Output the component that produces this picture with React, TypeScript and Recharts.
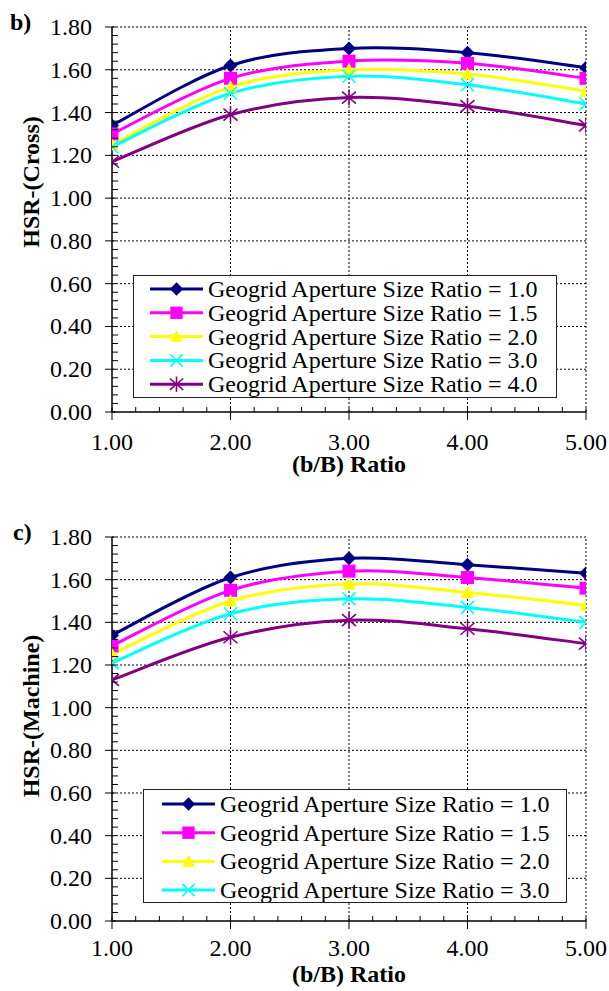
import React from 'react';
import { LineChart, Line, XAxis, YAxis, ReferenceLine, Legend } from 'recharts';

// ---------- data ----------
const bRatio = [1, 2, 3, 4, 5];

const seriesNames = [
  'Geogrid Aperture Size Ratio = 1.0',
  'Geogrid Aperture Size Ratio = 1.5',
  'Geogrid Aperture Size Ratio = 2.0',
  'Geogrid Aperture Size Ratio = 3.0',
  'Geogrid Aperture Size Ratio = 4.0',
];

// Panel b) HSR-(Cross)
const cross10 = [1.34, 1.62, 1.70, 1.68, 1.61];
const cross15 = [1.30, 1.56, 1.64, 1.63, 1.56];
const cross20 = [1.25, 1.52, 1.60, 1.58, 1.50];
const cross30 = [1.24, 1.49, 1.57, 1.53, 1.44];
const cross40 = [1.17, 1.39, 1.47, 1.43, 1.34];

// Panel c) HSR-(Machine)
const mach10 = [1.34, 1.61, 1.70, 1.67, 1.63];
const mach15 = [1.29, 1.55, 1.64, 1.61, 1.56];
const mach20 = [1.25, 1.50, 1.58, 1.54, 1.48];
const mach30 = [1.21, 1.44, 1.51, 1.47, 1.40];
const mach40 = [1.13, 1.33, 1.41, 1.37, 1.30];

const yMajorTicks = [0, 0.2, 0.4, 0.6, 0.8, 1.0, 1.2, 1.4, 1.6, 1.8];
const yTickLabels = ['0.00', '0.20', '0.40', '0.60', '0.80', '1.00', '1.20', '1.40', '1.60', '1.80'];
const xMajorTicks = [1, 2, 3, 4, 5];
const xTickLabels = ['1.00', '2.00', '3.00', '4.00', '5.00'];

const colors = ['#000080', '#FF00FF', '#FFFF00', '#00FFFF', '#800080'];
const shapes = ['diamond', 'square', 'triangle', 'cross', 'star'];

const FONT = '"Liberation Serif", "Times New Roman", serif';

// minor ticks: subdivide major intervals
function subdivide(major: number[], parts: number): number[] {
  const out: number[] = [];
  for (let i = 0; i < major.length - 1; i++) {
    for (let k = 0; k < parts; k++) {
      out.push(+(major[i] + ((major[i + 1] - major[i]) * k) / parts).toFixed(4));
    }
  }
  out.push(major[major.length - 1]);
  return out;
}
const yAllTicks = subdivide(yMajorTicks, 5);
const xAllTicks = subdivide(xMajorTicks, 5);

const isMajor = (v: number, majors: number[]) => majors.some((m) => Math.abs(m - v) < 1e-6);
const labelFor = (v: number, majors: number[], labels: string[]) => {
  const i = majors.findIndex((m) => Math.abs(m - v) < 1e-6);
  return i >= 0 ? labels[i] : '';
};

// Excel-like smoothing (Catmull-Rom through points)
function excelCurve(context: any) {
  let pts: number[][] = [];
  return {
    areaStart() {},
    areaEnd() {},
    lineStart() {
      pts = [];
    },
    point(x: number, y: number) {
      pts.push([+x, +y]);
    },
    lineEnd() {
      if (!pts.length) return;
      context.moveTo(pts[0][0], pts[0][1]);
      for (let i = 0; i < pts.length - 1; i++) {
        const p0 = pts[i - 1] || pts[i];
        const p1 = pts[i];
        const p2 = pts[i + 1];
        const p3 = pts[i + 2] || p2;
        context.bezierCurveTo(
          p1[0] + (p2[0] - p0[0]) / 6,
          p1[1] + (p2[1] - p0[1]) / 6,
          p2[0] - (p3[0] - p1[0]) / 6,
          p2[1] - (p3[1] - p1[1]) / 6,
          p2[0],
          p2[1]
        );
      }
    },
  };
}

function Marker({ shape, cx, cy, color, s = 1 }: any) {
  if (cx == null || cy == null) return null;
  switch (shape) {
    case 'diamond':
      return (
        <polygon
          points={`${cx},${cy - 7 * s} ${cx + 7 * s},${cy} ${cx},${cy + 7 * s} ${cx - 7 * s},${cy}`}
          fill={color}
        />
      );
    case 'square':
      return <rect x={cx - 6.5 * s} y={cy - 6.5 * s} width={13 * s} height={13 * s} fill={color} />;
    case 'triangle':
      return (
        <polygon
          points={`${cx},${cy - 7 * s} ${cx + 6.5 * s},${cy + 5.5 * s} ${cx - 6.5 * s},${cy + 5.5 * s}`}
          fill={color}
        />
      );
    case 'cross':
      return (
        <g stroke={color} strokeWidth={1.6}>
          <line x1={cx - 6.5 * s} y1={cy - 6.5 * s} x2={cx + 6.5 * s} y2={cy + 6.5 * s} />
          <line x1={cx - 6.5 * s} y1={cy + 6.5 * s} x2={cx + 6.5 * s} y2={cy - 6.5 * s} />
        </g>
      );
    case 'star':
      return (
        <g stroke={color} strokeWidth={1.6}>
          <line x1={cx - 7 * s} y1={cy - 6 * s} x2={cx + 7 * s} y2={cy + 6 * s} />
          <line x1={cx - 7 * s} y1={cy + 6 * s} x2={cx + 7 * s} y2={cy - 6 * s} />
          <line x1={cx} y1={cy - 8 * s} x2={cx} y2={cy + 8 * s} />
        </g>
      );
    default:
      return null;
  }
}

function XTick(props: any) {
  const { x, y, payload, labelDy } = props;
  const v = payload.value;
  const major = isMajor(v, xMajorTicks);
  return (
    <g>
      {major ? (
        <line x1={x} y1={y - 4} x2={x} y2={y + 8} stroke="#000" strokeWidth={1} />
      ) : (
        <line x1={x} y1={y - 5} x2={x} y2={y} stroke="#000" strokeWidth={1} />
      )}
      {major && (
        <text x={x} y={y + labelDy} textAnchor="middle" fontFamily={FONT} fontSize={24} fill="#000">
          {labelFor(v, xMajorTicks, xTickLabels)}
        </text>
      )}
    </g>
  );
}

function YTick(props: any) {
  const { x, y, payload } = props;
  const v = payload.value;
  const major = isMajor(v, yMajorTicks);
  return (
    <g>
      {major ? (
        <line x1={x - 7} x2={x + 4} y1={y} y2={y} stroke="#000" strokeWidth={1} />
      ) : (
        <line x1={x} x2={x + 6} y1={y} y2={y} stroke="#000" strokeWidth={1} />
      )}
      {major && (
        <text x={x - 20} y={y + 8} textAnchor="end" fontFamily={FONT} fontSize={24} fill="#000">
          {labelFor(v, yMajorTicks, yTickLabels)}
        </text>
      )}
    </g>
  );
}

function LegendBox({ width, height, count, firstCenter, spacing, lineX0, lineX1, textX }: any) {
  const rows = seriesNames.slice(0, count);
  return (
    <div
      style={{
        width,
        height,
        border: '1px solid #222',
        background: '#fff',
        boxSizing: 'border-box',
        position: 'relative',
        overflow: 'hidden',
      }}
    >
      <svg width={width - 2} height={height - 2} style={{ display: 'block' }}>
        {rows.map((name, i) => {
          const cy = firstCenter + i * spacing;
          const mx = (lineX0 + lineX1) / 2;
          return (
            <g key={name}>
              <line x1={lineX0} x2={lineX1} y1={cy} y2={cy} stroke={colors[i]} strokeWidth={3} />
              <Marker shape={shapes[i]} cx={mx} cy={cy} color={colors[i]} s={0.95} />
              <text x={textX} y={cy + 8} fontFamily={FONT} fontSize={24} fill="#000">
                {name}
              </text>
            </g>
          );
        })}
      </svg>
    </div>
  );
}

function Panel(p: any) {
  const data = bRatio.map((x, i) => {
    const row: any = { x };
    p.series.forEach((arr: number[], k: number) => {
      row['s' + k] = arr[i];
    });
    return row;
  });

  const yTitle = () => (
    <g>
      <text
        x={39}
        y={p.yTitleY}
        transform={`rotate(-90, 39, ${p.yTitleY})`}
        textAnchor="middle"
        fontFamily={FONT}
        fontSize={24}
        fontWeight="bold"
        fill="#000"
      >
        {p.yTitle}
      </text>
      <text x={p.letterX} y={p.letterY} fontFamily={FONT} fontSize={24} fontWeight="bold" fill="#000">
        {p.letter}
      </text>
    </g>
  );

  const xTitle = (props: any) => {
    const vb = props.viewBox || {};
    return (
      <text
        x={vb.x + vb.width / 2}
        y={vb.y + p.xTitleDy}
        textAnchor="middle"
        fontFamily={FONT}
        fontSize={24}
        fontWeight="bold"
        fill="#000"
      >
        (b/B) Ratio
      </text>
    );
  };

  return (
    <LineChart
      width={609}
      height={p.height}
      data={data}
      margin={{ top: p.marginTop, right: 23, bottom: p.marginBottom, left: 0 }}
      style={{ fontFamily: FONT }}
    >
      {yMajorTicks
        .filter((v) => v > 0)
        .map((v) => (
          <ReferenceLine key={'h' + v} y={v} stroke="#000" strokeWidth={1} strokeDasharray="2 2" />
        ))}
      {xMajorTicks
        .filter((v) => v > 1)
        .map((v) => (
          <ReferenceLine key={'v' + v} x={v} stroke="#000" strokeWidth={1} strokeDasharray="2 2" />
        ))}
      <XAxis
        type="number"
        dataKey="x"
        domain={[1, 5]}
        ticks={xAllTicks}
        interval={0}
        allowDataOverflow
        tickLine={false}
        tickSize={0}
        tickMargin={0}
        height={60}
        axisLine={{ stroke: '#000', strokeWidth: 1.5 }}
        tick={(tp: any) => <XTick {...tp} labelDy={p.xLabelDy} />}
        label={xTitle}
      />
      <YAxis
        type="number"
        domain={[0, 1.8]}
        ticks={yAllTicks}
        interval={0}
        allowDataOverflow
        width={112}
        tickLine={false}
        tickSize={0}
        tickMargin={0}
        axisLine={{ stroke: '#000', strokeWidth: 1.5 }}
        tick={(tp: any) => <YTick {...tp} />}
        label={yTitle}
      />
      {p.series.map((_: number[], k: number) => (
        <Line
          key={'s' + k}
          dataKey={'s' + k}
          name={seriesNames[k]}
          type={excelCurve as any}
          stroke={colors[k]}
          strokeWidth={3}
          isAnimationActive={false}
          activeDot={false}
          dot={(dp: any) => (
            <Marker key={'d' + k + '-' + dp.index} shape={shapes[k]} cx={dp.cx} cy={dp.cy} color={colors[k]} />
          )}
        />
      ))}
      <Legend
        layout="vertical"
        align="center"
        verticalAlign="middle"
        wrapperStyle={{ left: p.legend.left, top: p.legend.top, width: p.legend.width, height: p.legend.height }}
        content={() => <LegendBox {...p.legend} />}
      />
    </LineChart>
  );
}

export default function App() {
  return (
    <div style={{ position: 'absolute', left: 0, top: 0, width: 609, height: 991, background: '#fff' }}>
      <div style={{ position: 'absolute', left: 0, top: 0 }}>
        <Panel
          height={500}
          marginTop={27}
          marginBottom={28}
          series={[cross10, cross15, cross20, cross30, cross40]}
          yTitle="HSR-(Cross)"
          yTitleY={182}
          letter="b)"
          letterX={10}
          letterY={30}
          xLabelDy={38}
          xTitleDy={60}
          legend={{
            left: 133,
            top: 275,
            width: 424,
            height: 123,
            count: 5,
            firstCenter: 13,
            spacing: 23.8,
            lineX0: 16,
            lineX1: 69,
            textX: 74,
          }}
        />
      </div>
      <div style={{ position: 'absolute', left: 0, top: 500 }}>
        <Panel
          height={491}
          marginTop={37}
          marginBottom={10}
          series={[mach10, mach15, mach20, mach30, mach40]}
          yTitle="HSR-(Machine)"
          yTitleY={216}
          letter="c)"
          letterX={13}
          letterY={40}
          xLabelDy={35}
          xTitleDy={61}
          legend={{
            left: 143,
            top: 289,
            width: 424,
            height: 114,
            count: 4,
            firstCenter: 14,
            spacing: 28.7,
            lineX0: 18,
            lineX1: 71,
            textX: 76,
          }}
        />
      </div>
    </div>
  );
}
